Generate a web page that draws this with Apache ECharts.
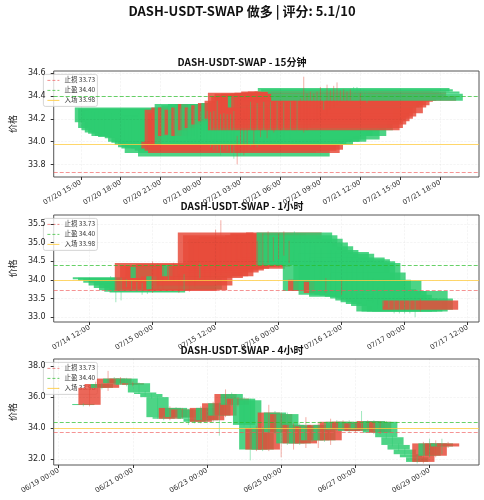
<!DOCTYPE html>
<html><head><meta charset="utf-8">
<script src="https://cdn.jsdelivr.net/npm/echarts@6/dist/echarts.min.js"></script>
<style>html,body{margin:0;padding:0;background:#fff}#c{width:484px;height:500px}</style>
</head><body><div id="c"></div>
<script>
const title = 'DASH-USDT-SWAP 做多 | 评分: 5.1/10';
const subTitles = ['DASH-USDT-SWAP - 15分钟', 'DASH-USDT-SWAP - 1小时', 'DASH-USDT-SWAP - 4小时'];
const levels = {stop: 33.73, take: 34.40, entry: 33.98};
const legendLabels = ['止损 33.73', '止盈 34.40', '入场 33.98'];

// panel 1: 15 min candles starting 2025-07-20 21:45
const start1 = Date.UTC(2025, 6, 20, 21, 45), step1 = 15 * 60000;
const open1  = [34.30,34.29,34.28,34.27,34.28,34.27,34.26,34.27,34.26,34.25,34.26,34.25,34.24,34.25,34.23,34.22,34.23,34.22,34.22,34.25,33.94,33.92,33.90,33.93,34.33,34.05,34.32,34.06,34.33,34.05,34.33,34.10,34.33,34.12,34.33,34.15,34.33,34.18,34.34,34.20,34.10,34.12,34.15,34.18,34.20,34.22,34.40,34.25,34.30,34.32,34.35,34.36,34.38,34.37,34.38,34.47,34.46,34.36,34.44,34.42];
const close1 = [34.17,34.12,34.10,34.08,34.07,34.05,34.05,34.04,34.05,34.03,34.00,33.99,33.97,33.95,33.94,33.90,33.95,33.94,33.92,33.87,34.00,34.28,34.25,34.30,33.98,34.30,33.97,34.28,34.00,34.30,34.00,34.33,34.05,34.30,34.02,34.32,34.05,34.34,34.10,34.36,34.43,34.40,34.42,34.40,34.42,34.38,34.30,34.42,34.43,34.42,34.44,34.43,34.44,34.42,34.44,34.44,34.44,34.40,34.42,34.36];
const high1  = [34.32,34.31,34.30,34.29,34.30,34.29,34.28,34.29,34.28,34.27,34.28,34.27,34.26,34.27,34.36,34.24,34.25,34.24,34.24,34.27,34.05,34.30,34.27,34.32,34.35,34.32,34.34,34.30,34.35,34.32,34.35,34.35,34.35,34.32,34.35,34.34,34.35,34.36,34.36,34.38,34.57,34.42,34.44,34.42,34.44,34.48,34.42,34.50,34.45,34.49,34.52,34.45,34.46,34.44,34.46,34.48,34.48,34.42,34.46,34.44];
const low1   = [34.15,34.10,34.08,34.06,34.05,34.03,34.03,34.02,34.03,34.01,33.98,33.97,33.95,33.93,33.92,33.88,33.93,33.92,33.90,33.85,33.80,33.90,33.88,33.91,33.96,33.95,33.95,34.04,33.98,34.03,33.98,34.08,34.03,34.10,34.00,34.13,34.03,34.16,34.08,34.18,34.08,34.10,34.13,34.16,34.18,34.20,34.28,34.23,34.28,34.30,34.33,34.34,34.36,34.35,34.36,34.42,34.42,34.34,34.40,34.34];

// panel 2: 1h candles starting 2025-07-14 16:00
const start2 = Date.UTC(2025, 6, 14, 16, 0), step2 = 3600000;
const open2  = [34.07,34.06,34.04,34.00,33.96,33.92,33.90,33.88,33.70,33.75,33.80,34.35,34.00,33.70,34.10,33.72,33.85,34.40,34.05,34.10,34.10,34.20,34.25,34.30,34.35,34.40,34.30,34.35,34.40,34.45,34.50,34.55,34.60,34.70,34.50,35.27,35.20,35.10,35.00,34.90,34.80,33.70,34.75,34.70,33.65,34.60,34.55,34.50,34.45,34.20,34.00,33.75,33.98,33.70,33.60,33.50,33.45,33.70,33.50,33.20];
const close2 = [34.02,33.98,33.92,33.85,33.78,33.72,33.68,33.66,34.45,34.40,34.35,34.05,34.42,34.10,33.75,34.30,34.40,34.10,34.38,34.40,35.27,35.20,35.10,35.00,35.15,35.05,34.95,35.10,35.00,35.20,35.25,35.10,35.20,35.27,35.00,34.40,34.45,34.42,34.45,34.42,33.70,34.00,33.72,33.60,33.95,33.55,33.60,33.58,33.55,33.50,33.45,33.40,33.35,33.30,33.15,33.15,33.15,33.15,33.20,33.45];
const high2  = [34.10,34.08,34.06,34.02,33.98,33.95,33.92,33.90,34.50,34.45,34.40,34.40,34.46,34.15,34.15,34.35,34.45,34.45,34.42,34.45,35.35,35.60,35.15,35.05,35.20,35.10,35.00,35.15,35.05,35.25,35.30,35.15,35.25,35.30,35.05,35.30,35.25,35.15,35.05,34.95,34.85,34.05,34.80,34.75,34.00,34.65,34.60,34.55,34.50,34.25,34.05,33.80,34.00,33.75,33.65,33.55,33.50,33.75,33.55,33.50];
const low2   = [33.98,33.40,33.45,33.80,33.74,33.68,33.60,33.62,33.65,33.70,33.75,34.00,33.95,33.65,33.70,33.68,33.80,34.05,34.00,34.05,34.05,34.15,34.20,34.25,34.30,34.35,34.25,34.30,34.35,34.40,34.45,34.50,34.55,34.65,34.45,34.35,34.40,34.38,34.40,34.38,33.65,33.65,33.68,33.55,33.60,33.50,33.55,33.52,33.50,33.45,33.40,33.35,33.30,33.25,33.10,33.10,33.10,33.10,33.00,33.15];

// panel 3: 4h candles starting 2025-06-19 16:00
const start3 = Date.UTC(2025, 5, 19, 16, 0), step3 = 4 * 3600000;
const open3  = [35.55,35.50,36.60,36.85,36.60,37.20,36.90,37.20,36.80,36.90,36.30,36.20,36.00,34.70,34.60,35.30,34.70,35.20,34.60,34.40,35.30,34.50,35.60,34.80,36.20,35.50,35.90,35.80,32.60,34.00,32.60,35.00,33.70,34.90,33.00,34.20,33.00,34.10,33.20,34.20,33.20,34.40,33.90,34.40,33.80,34.30,33.90,34.45,33.70,34.40,33.40,32.90,32.60,32.30,32.10,31.80,33.00,32.20,33.00,32.80];
const close3 = [35.50,36.60,36.85,36.60,37.20,36.90,37.20,36.80,36.90,36.30,36.20,36.00,34.70,34.60,35.30,34.70,35.20,34.60,34.40,35.30,34.50,35.60,34.80,36.20,35.50,35.90,34.20,32.60,34.00,32.60,35.00,33.70,34.90,33.00,34.20,33.00,34.10,33.20,34.20,33.20,34.40,33.90,34.40,33.80,34.30,33.90,34.45,33.70,34.40,33.40,32.90,32.60,32.30,32.10,31.80,33.00,32.20,33.00,32.80,33.00];
const high3  = [35.60,36.70,37.00,36.90,37.70,37.30,37.30,37.25,37.00,36.95,36.40,36.25,36.05,34.80,35.40,35.35,35.30,35.25,34.70,35.40,35.35,35.70,35.65,36.50,36.30,36.00,36.00,35.90,34.10,34.10,35.50,35.10,35.00,35.00,34.30,34.30,34.70,34.20,34.40,34.30,34.60,34.50,34.50,34.50,34.40,35.10,34.50,34.50,34.45,34.45,33.50,33.00,32.70,32.40,32.20,33.10,33.30,33.20,33.30,33.10];
const low3   = [35.40,35.40,36.50,36.50,36.40,36.80,36.80,36.70,36.70,36.20,36.10,35.90,34.60,34.50,34.50,34.60,34.60,34.20,34.30,34.30,34.40,34.40,33.50,34.70,35.40,35.40,34.10,31.90,32.50,32.50,32.50,33.60,32.10,32.90,32.60,32.90,32.70,33.10,32.70,33.10,32.90,33.80,33.80,33.70,33.70,33.80,33.80,33.60,33.60,33.30,32.80,32.50,32.20,32.00,31.70,31.70,32.10,32.10,32.30,32.70];

const fmt = t => { const d = new Date(t); const p = n => String(n).padStart(2, '0');
  return p(d.getUTCMonth() + 1) + '/' + p(d.getUTCDate()) + ' ' + p(d.getUTCHours()) + ':00'; };
const H = 3600000;
const panels = [
  {start: start1, step: step1, o: open1, c: close1, h: high1, l: low1,
   xmin: Date.UTC(2025,6,20,12,58), xmax: Date.UTC(2025,6,21,20,55), xt0: Date.UTC(2025,6,20,15), xstep: 3*H, xn: 10,
   ymin: 33.69, ymax: 34.62, yt: [33.8,34.0,34.2,34.4,34.6], top: 71, bottom: 177, sub: 57},
  {start: start2, step: step2, o: open2, c: close2, h: high2, l: low2,
   xmin: Date.UTC(2025,6,14,5,10), xmax: Date.UTC(2025,6,17,14,10), xt0: Date.UTC(2025,6,14,12), xstep: 12*H, xn: 7,
   ymin: 32.87, ymax: 35.74, yt: [33.0,33.5,34.0,34.5,35.0,35.5], top: 215, bottom: 322, sub: 201},
  {start: start3, step: step3, o: open3, c: close3, h: high3, l: low3,
   xmin: Date.UTC(2025,5,18,20,50), xmax: Date.UTC(2025,5,30,8), xt0: Date.UTC(2025,5,19), xstep: 48*H, xn: 6,
   ymin: 31.6, ymax: 38.47, yt: [32,34,36,38], top: 359, bottom: 465, sub: 345}
];
const W = 0.6 * 86400000;
const grid = [], xAxis = [], yAxis = [], series = [], graphic = [];
graphic.push({type: 'text', left: 'center', top: 5, style: {text: title, font: 'bold 13px "Noto Sans CJK SC"', fill: '#111'}});
panels.forEach((p, k) => {
  grid.push({left: 40, right: 5, top: p.top, height: p.bottom - p.top, show: true, borderColor: '#555', borderWidth: 1, backgroundColor: 'transparent'});
  const xt = []; for (let i = 0; i < p.xn; i++) xt.push(p.xt0 + i * p.xstep);
  xAxis.push({type: 'value', gridIndex: k, min: p.xmin, max: p.xmax,
    axisLine: {show: false}, axisTick: {show: true, customValues: xt, length: 3, lineStyle: {color: '#333'}},
    axisLabel: {customValues: xt, formatter: fmt, rotate: 30, fontSize: 7, color: '#333', margin: 5, fontFamily: 'DejaVu Sans'},
    splitLine: {show: false}});
  yAxis.push({type: 'value', gridIndex: k, min: p.ymin, max: p.ymax, name: '价格', nameLocation: 'middle', nameGap: 26, nameRotate: 90,
    nameTextStyle: {fontSize: 9, color: '#222', fontFamily: 'Noto Sans CJK SC'},
    axisLine: {show: false}, axisTick: {show: true, customValues: p.yt, length: 3, lineStyle: {color: '#333'}},
    axisLabel: {customValues: p.yt, fontSize: 8, color: '#222', formatter: v => v.toFixed(1), fontFamily: 'DejaVu Sans'},
    splitLine: {show: false}});
  const data = p.o.map((o, i) => [p.start + i * p.step, o, p.c[i], p.l[i], p.h[i]]);
  series.push({type: 'line', xAxisIndex: k, yAxisIndex: k, data: [], silent: true, z: 1,
    markLine: {symbol: 'none', silent: true, label: {show: false}, data: [
      ...p.yt.map(v => ({yAxis: v, lineStyle: {color: 'rgba(0,0,0,0.07)', type: 'dashed', width: 0.6}})),
      ...xt.map(v => ({xAxis: v, lineStyle: {color: 'rgba(0,0,0,0.07)', type: 'dashed', width: 0.6}}))]}});
  series.push({type: 'custom', xAxisIndex: k, yAxisIndex: k, clip: true, data: data, z: 2,
    renderItem: (params, api) => {
      const t = api.value(0), o = api.value(1), c = api.value(2);
      const up = c >= o;
      const col = up ? 'rgba(231,76,60,0.85)' : 'rgba(46,204,113,0.85)';
      const a = api.coord([t - W / 2, Math.max(o, c)]), b = api.coord([t + W / 2, Math.min(o, c)]);
      const cs = params.coordSys;
      const x0 = Math.max(a[0], cs.x), x1 = Math.min(b[0], cs.x + cs.width);
      return {type: 'rect', shape: {x: x0, y: a[1], width: Math.max(0, x1 - x0), height: Math.max(1, b[1] - a[1])}, style: {fill: col}};
    }});
  series.push({type: 'custom', xAxisIndex: k, yAxisIndex: k, clip: true, data: data, z: 3,
    renderItem: (params, api) => {
      const t = api.value(0), up = api.value(2) >= api.value(1);
      const w1 = api.coord([t, api.value(4)]), w2 = api.coord([t, api.value(3)]);
      return {type: 'line', shape: {x1: w1[0], y1: w1[1], x2: w2[0], y2: w2[1]},
        style: {stroke: up ? 'rgba(231,76,60,0.45)' : 'rgba(46,204,113,0.45)', lineWidth: 1}};
    }});
  series.push({type: 'line', xAxisIndex: k, yAxisIndex: k, data: [], silent: true, z: 4,
    markLine: {symbol: 'none', silent: true, label: {show: false}, data: [
      {yAxis: levels.stop, lineStyle: {color: 'rgba(240,90,90,0.65)', type: 'dashed', width: 1}},
      {yAxis: levels.take, lineStyle: {color: 'rgba(40,190,40,0.7)', type: 'dashed', width: 1}},
      {yAxis: levels.entry, lineStyle: {color: 'rgba(255,205,70,0.8)', type: 'solid', width: 1}}]}});
  graphic.push({type: 'text', left: 'center', top: p.sub, style: {text: subTitles[k], font: 'bold 10px "Noto Sans CJK SC"', fill: '#111'}});
  const lg = {type: 'group', left: 43, top: p.top + 3, z: 100, children: [
    {type: 'rect', shape: {x: 0, y: 0, width: 54, height: 32, r: 2}, style: {fill: 'rgba(255,255,255,0.8)', stroke: '#ccc', lineWidth: 0.8}}]};
  const cols = ['rgba(240,90,90,0.7)', 'rgba(40,190,40,0.7)', 'rgba(255,205,70,0.9)'];
  legendLabels.forEach((s, j) => {
    lg.children.push({type: 'line', shape: {x1: 4, y1: 6 + j * 10, x2: 16, y2: 6 + j * 10}, style: {stroke: cols[j], lineWidth: 1, lineDash: j < 2 ? [3, 2] : null}});
    lg.children.push({type: 'text', x: 21, y: 2 + j * 10, style: {text: s, font: '6.5px "Noto Sans CJK SC"', fill: '#333'}});
  });
  graphic.push(lg);
});
const chart = echarts.init(document.getElementById('c'));
chart.setOption({animation: false, grid, xAxis, yAxis, series, graphic});
</script></body></html>
